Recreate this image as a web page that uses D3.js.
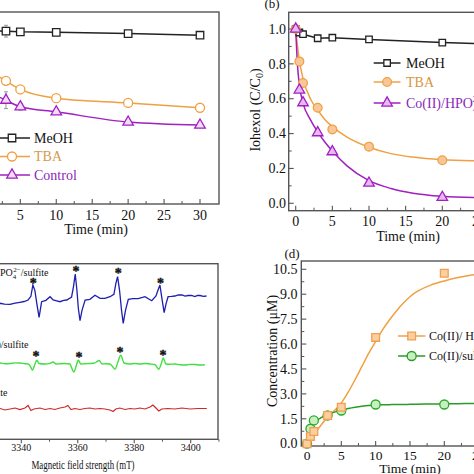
<!DOCTYPE html>
<html><head><meta charset="utf-8">
<script src="https://cdn.jsdelivr.net/npm/d3@7"></script>
<style>
body{margin:0;background:#fff}
svg{display:block}
text{font-family:"Liberation Serif","Times New Roman",serif;fill:#111}
</style>
</head><body>
<svg id="c" width="474" height="474"></svg>
<script>
// ---------- DATA ----------
// Panel (a)
const timesA = [0, 0.5, 1, 3, 5, 10, 20, 30];
const meohA = [1.0, 0.99, 0.99, 0.987, 0.983, 0.98, 0.973, 0.963];
const tbaA = [1.0, 0.86, 0.76, 0.692, 0.641, 0.589, 0.561, 0.532];
const controlA = [1.0, 0.72, 0.63, 0.577, 0.538, 0.508, 0.447, 0.429];
const errMeohA = [0, 0, 0, 0.035, 0, 0, 0, 0];
const errControlA = [0, 0, 0, 0.05, 0.02, 0, 0, 0];
const legendA = ["MeOH", "TBA", "Control"];
// Panel (b)
const timesB = [0, 0.5, 1, 3, 5, 10, 20, 30];
const meohB = [1.0, 0.98, 0.97, 0.947, 0.95, 0.94, 0.922, 0.91];
const tbaB = [1.0, 0.814, 0.69, 0.548, 0.424, 0.325, 0.247, 0.24];
const coB = [1.0, 0.65, 0.577, 0.405, 0.296, 0.116, 0.034, 0.03];
const fitTimesB = [0, 0.25, 0.5, 1, 2, 3, 4, 5, 7, 10, 13, 16, 20, 25, 30];
const tbaFitB = [1.0, 0.9, 0.82, 0.715, 0.6, 0.535, 0.48, 0.44, 0.38, 0.322, 0.285, 0.265, 0.25, 0.243, 0.24];
const coFitB = [1.0, 0.79, 0.68, 0.575, 0.48, 0.41, 0.35, 0.3, 0.215, 0.13, 0.085, 0.058, 0.04, 0.032, 0.03];
const legendB = ["MeOH", "TBA", "Co(II)/HPO"];
const yTicksB = [0, 0.2, 0.4, 0.6, 0.8, 1.0];
// Panel (c)
const fieldBlue = [3328,3330,3331.5,3332.5,3334,3336,3337.8,3339.5,3341,3342.4,3343.4,3344.1,3344.8,3345.6,3346.3,3347.2,3348.7,3350.2,3351.3,3352.5,3353.7,3355,3356.1,3357.8,3358.5,3359.1,3359.7,3360.2,3360.8,3361.5,3362.6,3364.3,3366.1,3367.9,3369.6,3371.4,3372.8,3373.5,3374.1,3374.8,3375.5,3376.1,3376.9,3377.9,3379.5,3381.4,3383.8,3386.2,3387.7,3388.4,3389.1,3389.8,3390.6,3391.3,3392.0,3393.2,3394.4,3395.6,3396.9,3398,3399.1,3400.3,3401.5,3402.4,3403.3,3404.5,3405.6];
const blueI = [134.5,135,134,136,135.2,135,136.2,137,137.8,139.3,143,154.3,149,134,122,137.6,139,142.6,139.3,138.5,137.6,139,139.3,142.3,153,165.3,149,131,118.6,129,139.3,140,144,141,141,142.6,145,156,162.6,149,129,116,129,140,140.6,140.6,142.6,138.6,143.3,149,154.3,141,126.6,136,142.6,142.9,143.3,144.5,144.3,143.2,143.8,144,142.8,143.9,143.8,143,143.3];
const fieldGreen = [3328,3330,3332.5,3334.2,3336,3337.8,3339.5,3341.3,3342.4,3343.4,3343.9,3344.7,3345.5,3346.3,3348.4,3350.2,3351.3,3352.3,3353.7,3355.5,3357.2,3357.9,3358.6,3359.4,3360.2,3361.1,3362.5,3364.3,3366.1,3367.6,3368.6,3370,3371.4,3372.5,3373.2,3374.2,3375.2,3376.4,3378.5,3380.2,3382,3383.8,3385.6,3387.3,3388.7,3389.5,3390.3,3391.2,3392.5,3394.4,3396.2,3397.9,3399.7,3401.5,3403.3,3405];
const greenI = [76,75.5,76.3,75.6,75.8,76.4,76.3,75.6,75.3,72,69,74,79,75.8,75.3,76,77.3,75.3,75.6,75.8,75.3,71,67.3,73,79,75.3,75.6,75.8,76.5,78.8,75.3,75.6,75.3,72,70,77,84,76.3,75.3,75.8,75.3,75.8,75.3,74.8,70,75,81.3,75.3,75,75.3,74.6,74.3,74.9,74.8,74.3,74.6];
const fieldRed = [3328,3330.5,3332.5,3334.2,3336,3337.8,3339.5,3341.3,3342.4,3343.4,3344.5,3346.6,3348.4,3350.2,3351.9,3353.7,3355.5,3356.5,3357.6,3359,3360.8,3362.5,3364.3,3366.1,3367.9,3369.6,3371.4,3372.5,3373.5,3374.9,3376.7,3378.5,3380.2,3382,3383.8,3385.6,3386.6,3387.7,3388.7,3389.8,3391.9,3394.4,3396.9,3399.7,3402.5,3405.7];
const redI = [30.5,31,30.8,29.3,30.3,31.3,29.8,31.3,33.8,28.8,30.3,31.3,29.8,30.8,29.8,31.3,32.3,33.8,29.8,30.8,29.8,30.8,31.3,30.3,30.8,30.3,29.3,27.8,30.3,31.3,29.8,30.8,30.3,31.3,30.3,32.3,34.3,31.3,28.3,30.3,30.8,30.3,31.3,30.3,30.8,30.8];
const starFieldBlue = [3344.2, 3359.4, 3374.3, 3389.3];
const starIBlue = [158.3, 170, 168.3, 158.3];
const starFieldGreen = [3345.2, 3360.4, 3375.0, 3390.2];
const starIGreen = [85.6, 84, 89, 86.6];
const xTicksC = [3340, 3360, 3380, 3400];
// Panel (d)
const timesD = [0, 0.5, 1, 3, 5, 10, 20, 30];
const hpoD = [0.0, 0.44, 0.74, 1.7, 2.2, 6.4, 10.26, 10.4];
const sulfiteD = [0.0, 0.9, 1.4, 1.7, 2.0, 2.36, 2.36, 2.45];
const fitTimesD = [0, 1, 2, 3, 4, 5, 6, 7, 8, 9, 10, 11, 12, 13, 14, 15, 16, 18, 20, 22, 24, 26, 28, 30];
const hpoFitD = [0, 0.55, 1.1, 1.6, 2.0, 2.45, 3.1, 3.85, 4.65, 5.45, 6.15, 6.85, 7.45, 7.98, 8.45, 8.85, 9.15, 9.55, 9.8, 10.0, 10.15, 10.25, 10.3, 10.35];
const sulfiteFitD = [0.5, 1.25, 1.55, 1.75, 1.9, 2.02, 2.12, 2.2, 2.26, 2.3, 2.32, 2.34, 2.35, 2.36, 2.36, 2.37, 2.38, 2.39, 2.4, 2.41, 2.42, 2.43, 2.45, 2.46];
const yTicksD = [0, 1.5, 3.0, 4.5, 6.0, 7.5, 9.0, 10.5];
const xTicksT = [0, 5, 10, 15, 20, 25, 30];

// ---------- STYLE ----------
const BLACK = "#222", ORANGE = "#f0a040", PURPLE = "#a020c0", GREEND = "#2a9a2a";
const svg = d3.select("#c");

function frame(x0, y0, x1, y1) {
  svg.append("rect").attr("x", x0).attr("y", y0).attr("width", x1 - x0).attr("height", y1 - y0)
    .attr("fill", "none").attr("stroke", "#555").attr("stroke-width", 1.4);
}
function xTicks(scale, vals, y, len, minor, out) {
  const dir = out ? 1 : -1;
  svg.append("g").selectAll("line").data(vals).join("line")
    .attr("x1", d => scale(d)).attr("x2", d => scale(d)).attr("y1", y).attr("y2", y + dir * len)
    .attr("stroke", "#555").attr("stroke-width", 1.1);
  svg.append("g").selectAll("line").data(minor).join("line")
    .attr("x1", d => scale(d)).attr("x2", d => scale(d)).attr("y1", y).attr("y2", y + dir * len * 0.6)
    .attr("stroke", "#555").attr("stroke-width", 1);
}
function yTicks(scale, vals, x, len, minor) {
  svg.append("g").selectAll("line").data(vals).join("line")
    .attr("y1", d => scale(d)).attr("y2", d => scale(d)).attr("x1", x).attr("x2", x + len)
    .attr("stroke", "#555").attr("stroke-width", 1.1);
  svg.append("g").selectAll("line").data(minor).join("line")
    .attr("y1", d => scale(d)).attr("y2", d => scale(d)).attr("x1", x).attr("x2", x + len * 0.6)
    .attr("stroke", "#555").attr("stroke-width", 1);
}
function xLabels(scale, vals, y, fs, fmt) {
  svg.append("g").selectAll("text").data(vals).join("text")
    .attr("x", d => scale(d)).attr("y", y).attr("text-anchor", "middle")
    .attr("font-size", fs).text(d => fmt ? fmt(d) : d);
}
function yLabels(scale, vals, x, fs, fmt) {
  svg.append("g").selectAll("text").data(vals).join("text")
    .attr("x", x).attr("y", d => scale(d) + fs * 0.34).attr("text-anchor", "end")
    .attr("font-size", fs).text(d => fmt(d));
}
function line(xs, ys, xsc, ysc, color, curve, w) {
  svg.append("path").datum(xs.map((t, i) => [t, ys[i]]))
    .attr("d", d3.line().x(d => xsc(d[0])).y(d => ysc(d[1])).curve(curve || d3.curveLinear))
    .attr("fill", "none").attr("stroke", color).attr("stroke-width", w || 1.5);
}
function markers(xs, ys, xsc, ysc, type, size, stroke, fill) {
  svg.append("g").selectAll("path").data(xs.map((t, i) => [t, ys[i]])).join("path")
    .attr("transform", d => `translate(${xsc(d[0])},${ysc(d[1])})`)
    .attr("d", d3.symbol().type(type).size(size))
    .attr("fill", fill).attr("stroke", stroke).attr("stroke-width", 1.3);
}
function errbars(xs, ys, es, xsc, ysc) {
  xs.forEach((t, i) => {
    if (!es[i]) return;
    const x = xsc(t);
    svg.append("line").attr("x1", x).attr("x2", x).attr("y1", ysc(ys[i] - es[i])).attr("y2", ysc(ys[i] + es[i])).attr("stroke", "#999").attr("stroke-width", 1);
    [ys[i] - es[i], ys[i] + es[i]].forEach(v => svg.append("line").attr("x1", x - 2).attr("x2", x + 2).attr("y1", ysc(v)).attr("y2", ysc(v)).attr("stroke", "#999").attr("stroke-width", 1));
  });
}
function legendRow(x1, x2, y, color, type, size, fill, label, tcolor, fs, tx) {
  svg.append("line").attr("x1", x1).attr("x2", x2).attr("y1", y).attr("y2", y).attr("stroke", color).attr("stroke-width", 1.5);
  svg.append("path").attr("transform", `translate(${(x1 + x2) / 2},${y})`).attr("d", d3.symbol().type(type).size(size))
    .attr("fill", fill).attr("stroke", color).attr("stroke-width", 1.3);
  return svg.append("text").attr("x", tx).attr("y", y + fs * 0.34).attr("font-size", fs).style("fill", tcolor).text(label);
}
const minorT = [2.5, 7.5, 12.5, 17.5, 22.5, 27.5];

// ---------- PANEL (a) ----------
const xA = d3.scaleLinear().domain([0, 30]).range([-15.6, 200]);
const yA = d3.scaleLinear().domain([0, 1]).range([197.3, 29]);
frame(-40, 12, 219, 204);
xTicks(xA, xTicksT, 204, 5, minorT, false);
xLabels(xA, xTicksT.slice(1), 220, 14);
svg.append("text").attr("x", 96).attr("y", 234).attr("text-anchor", "middle").attr("font-size", 14).text("Time (min)");
line(timesA, meohA, xA, yA, BLACK, d3.curveLinear);
line(timesA, tbaA, xA, yA, ORANGE, d3.curveMonotoneX);
line(timesA, controlA, xA, yA, PURPLE, d3.curveMonotoneX);
errbars(timesA, meohA, errMeohA, xA, yA);
errbars(timesA, controlA, errControlA, xA, yA);
markers(timesA, meohA, xA, yA, d3.symbolSquare, 56, BLACK, "#fff");
markers(timesA, tbaA, xA, yA, d3.symbolCircle, 64, ORANGE, "#fff");
markers(timesA, controlA, xA, yA, d3.symbolTriangle, 48, PURPLE, "#f3dcf8");
legendRow(-6, 30, 138, BLACK, d3.symbolSquare, 56, "#fff", legendA[0], "#111", 14, 34);
legendRow(-6, 30, 156.5, ORANGE, d3.symbolCircle, 64, "#fff", legendA[1], "#d29a50", 14, 34);
legendRow(-6, 30, 175, PURPLE, d3.symbolTriangle, 48, "#f3dcf8", legendA[2], "#8a2ab8", 14, 34);

// ---------- PANEL (b) ----------
const xB = d3.scaleLinear().domain([0, 30]).range([295.7, 515.6]);
const yB = d3.scaleLinear().domain([0, 1]).range([203.3, 29]);
frame(288.7, 12.3, 560, 210.7);
xTicks(xB, xTicksT, 210.7, 5, minorT, false);
yTicks(yB, yTicksB, 288.7, 5, [0.1, 0.3, 0.5, 0.7, 0.9]);
xLabels(xB, xTicksT, 225.5, 14);
yLabels(yB, yTicksB, 286, 14, d => d.toFixed(1));
svg.append("text").attr("x", 408).attr("y", 241).attr("text-anchor", "middle").attr("font-size", 14).text("Time (min)");
svg.append("text").attr("x", 272).attr("y", 8).attr("text-anchor", "middle").attr("font-size", 13).text("(b)");
const yLab = svg.append("text").attr("transform", "translate(260,110) rotate(-90)").attr("text-anchor", "middle").attr("font-size", 14);
yLab.append("tspan").text("Iohexol  (C/C");
yLab.append("tspan").attr("dy", 3).attr("font-size", 10).text("0");
yLab.append("tspan").attr("dy", -3).text(")");
line(timesB, meohB, xB, yB, BLACK, d3.curveLinear);
line(fitTimesB, tbaFitB, xB, yB, ORANGE, d3.curveMonotoneX);
line(fitTimesB, coFitB, xB, yB, PURPLE, d3.curveMonotoneX);
markers(timesB, meohB, xB, yB, d3.symbolSquare, 42, BLACK, "#fff");
markers(timesB, tbaB, xB, yB, d3.symbolCircle, 60, ORANGE, "#f7c79a");
markers(timesB, coB, xB, yB, d3.symbolTriangle, 48, PURPLE, "#e9b8f3");
legendRow(373.7, 400.5, 63, BLACK, d3.symbolSquare, 42, "#fff", legendB[0], "#111", 14, 406);
legendRow(373.7, 400.5, 82, ORANGE, d3.symbolCircle, 60, "#f7c79a", legendB[1], "#d99440", 14, 406);
const lb3 = legendRow(373.7, 400.5, 103, PURPLE, d3.symbolTriangle, 48, "#e9b8f3", legendB[2], "#8a2ab8", 14, 406);
lb3.append("tspan").attr("dy", 4).attr("font-size", 9).text("4");
lb3.append("tspan").attr("dx", -5).attr("dy", -10).attr("font-size", 9).text("2−");

// ---------- PANEL (c) ----------
const xC = d3.scaleLinear().domain([3340, 3400]).range([21.3, 190.7]);
const yC = d3.scaleLinear().domain([0, 175.6]).range([439.3, 263.7]);
frame(-70, 263.7, 218, 439.3);
xTicks(xC, xTicksC, 439.3, 4, [3350, 3370, 3390, 3410], true);
xLabels(xC, xTicksC, 451, 10);
svg.append("text").attr("x", 83).attr("y", 469).attr("text-anchor", "middle").attr("font-size", 13)
  .attr("textLength", 103).attr("lengthAdjust", "spacingAndGlyphs").text("Magnetic field strength (mT)");
line(fieldBlue, blueI, xC, yC, "#1e1eb0", d3.curveLinear, 1.3);
line(fieldGreen, greenI, xC, yC, "#3fe03f", d3.curveMonotoneX, 1.4);
line(fieldRed, redI, xC, yC, "#d02828", d3.curveLinear, 1.2);
function stars(xs, ys) {
  svg.append("g").selectAll("text").data(xs.map((b, i) => [b, ys[i]])).join("text")
    .attr("x", d => xC(d[0])).attr("y", d => yC(d[1]) + 7).attr("text-anchor", "middle")
    .attr("font-size", 14).attr("font-weight", "bold").style("fill", "#111")
    .attr("stroke", "#111").attr("stroke-width", 0.4).text("*");
}
stars(starFieldBlue, starIBlue);
stars(starFieldGreen, starIGreen);
const lc1 = svg.append("text").attr("x", 48.5).attr("y", 276).attr("text-anchor", "end").attr("font-size", 10);
lc1.append("tspan").text("Co(II)/HPO");
lc1.append("tspan").attr("dy", 3).attr("font-size", 7).text("4");
lc1.append("tspan").attr("dx", -3).attr("dy", -7).attr("font-size", 7).text("2−");
lc1.append("tspan").attr("dy", 4).text("/sulfite");
svg.append("text").attr("x", 28.5).attr("y", 347.5).attr("text-anchor", "end").attr("font-size", 10).text("Co(II)/sulfite");
svg.append("text").attr("x", 7.5).attr("y", 395.5).attr("text-anchor", "end").attr("font-size", 10).text("sulfite");

// ---------- PANEL (d) ----------
const xD = d3.scaleLinear().domain([0, 20]).range([307, 444.3]);
const yD = d3.scaleLinear().domain([0, 10.5]).range([443.7, 269.3]);
frame(301.3, 261, 560, 446);
xTicks(xD, xTicksT, 446, 5, minorT, false);
yTicks(yD, yTicksD, 301.3, 5, [0.75, 2.25, 3.75, 5.25, 6.75, 8.25, 9.75]);
xLabels(xD, xTicksT, 459.5, 13.5);
yLabels(yD, yTicksD, 297.5, 14, d => d.toFixed(1));
svg.append("text").attr("x", 410).attr("y", 472.5).attr("text-anchor", "middle").attr("font-size", 13.5).text("Time (min)");
svg.append("text").attr("x", 292).attr("y", 258).attr("text-anchor", "middle").attr("font-size", 13).text("(d)");
svg.append("text").attr("transform", "translate(277,351) rotate(-90)").attr("text-anchor", "middle").attr("font-size", 14).text("Concentration  (μM)");
line(fitTimesD, hpoFitD, xD, yD, ORANGE, d3.curveMonotoneX);
line(fitTimesD, sulfiteFitD, xD, yD, GREEND, d3.curveMonotoneX);
markers(timesD, sulfiteD, xD, yD, d3.symbolCircle, 64, "#2aa82a", "#c8efbf");
markers(timesD, hpoD, xD, yD, d3.symbolSquare, 60, "#f0a050", "#fad0a0");
const ld1 = legendRow(398, 425.3, 336, "#f0a050", d3.symbolSquare, 60, "#fad0a0", "Co(II)/ HPO", "#111", 12, 429);
ld1.append("tspan").attr("dy", 3).attr("font-size", 8).text("4");
ld1.append("tspan").attr("dx", -4).attr("dy", -8).attr("font-size", 8).text("2−");
ld1.append("tspan").attr("dy", 5).text("/sulfite");
legendRow(398, 425.3, 356, GREEND, d3.symbolCircle, 64, "#c8efbf", "Co(II)/sulfite", "#111", 12, 429);
</script>
</body></html>
